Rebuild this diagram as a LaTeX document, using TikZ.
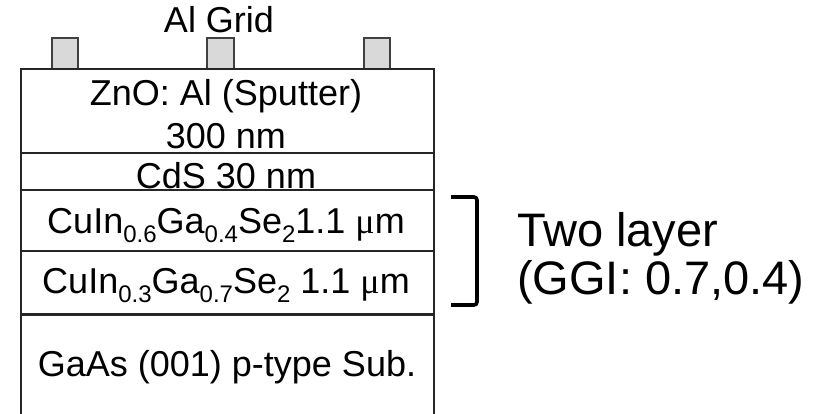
\documentclass[tikz,border=0pt]{standalone}
\usepackage{fontspec}
\setmainfont{Liberation Sans}
\newfontfamily\mufont{Liberation Serif}
\newcommand{\lsub}[1]{\raisebox{-0.25em}{\fontsize{24}{24}\selectfont #1}}
\begin{document}
\begin{tikzpicture}[x=1pt,y=-1pt,
  lay/.style={line width=2pt, draw=black!85},
  txt/.style={anchor=base, inner sep=0pt, font=\fontsize{36}{36}\selectfont},
  bigtxt/.style={anchor=base west, inner sep=0pt, font=\fontsize{47}{47}\selectfont},
  gridbar/.style={fill=black!15, draw=black!75, line width=1.5pt},
  brack/.style={line width=3.6pt, draw=black, rounded corners=3pt}]
\useasboundingbox (0,0) rectangle (830,413);
\fill[white] (0,0) rectangle (830,413);
% Al grid fingers
\draw[gridbar] (52,38) rectangle (78,69);
\draw[gridbar] (207,38) rectangle (234,69);
\draw[gridbar] (364,38) rectangle (390,69);
% layer stack
\draw[lay] (21,414) -- (21,69) -- (434,69) -- (434,414);
\draw[lay] (21,153) -- (434,153);
\draw[lay] (21,190) -- (434,190);
\draw[lay] (21,251) -- (434,251);
\draw[lay, line width=3pt] (21,314) -- (434,314);
% texts
\node[txt] (grid) at (219,32) {Al Grid};
\node[txt] (zno1) at (226,105) {ZnO: Al (Sputter)};
\node[txt] (zno2) at (226,148) {300 nm};
\node[txt] (cds) at (226,188) {CdS 30 nm};
\node[txt] (cigs1) at (226,233) {CuIn\lsub{0.6}Ga\lsub{0.4}Se\lsub{2}1.1 {\mufont μ}m};
\node[txt] (cigs2) at (226,293) {CuIn\lsub{0.3}Ga\lsub{0.7}Se\lsub{2} 1.1 {\mufont μ}m};
\node[txt] (gaas) at (227,376) {GaAs (001) p-type Sub.};
% bracket
\coordinate (bt) at (451,197);
\coordinate (bb) at (451,305);
\draw[brack] (bt) -- (477,197) -- (477,305) -- (bb);
\node[bigtxt] (two) at (517,246) {Two layer};
\node[bigtxt] (ggi) at (517,294) {(GGI: 0.7,0.4)};
\end{tikzpicture}
\end{document}
